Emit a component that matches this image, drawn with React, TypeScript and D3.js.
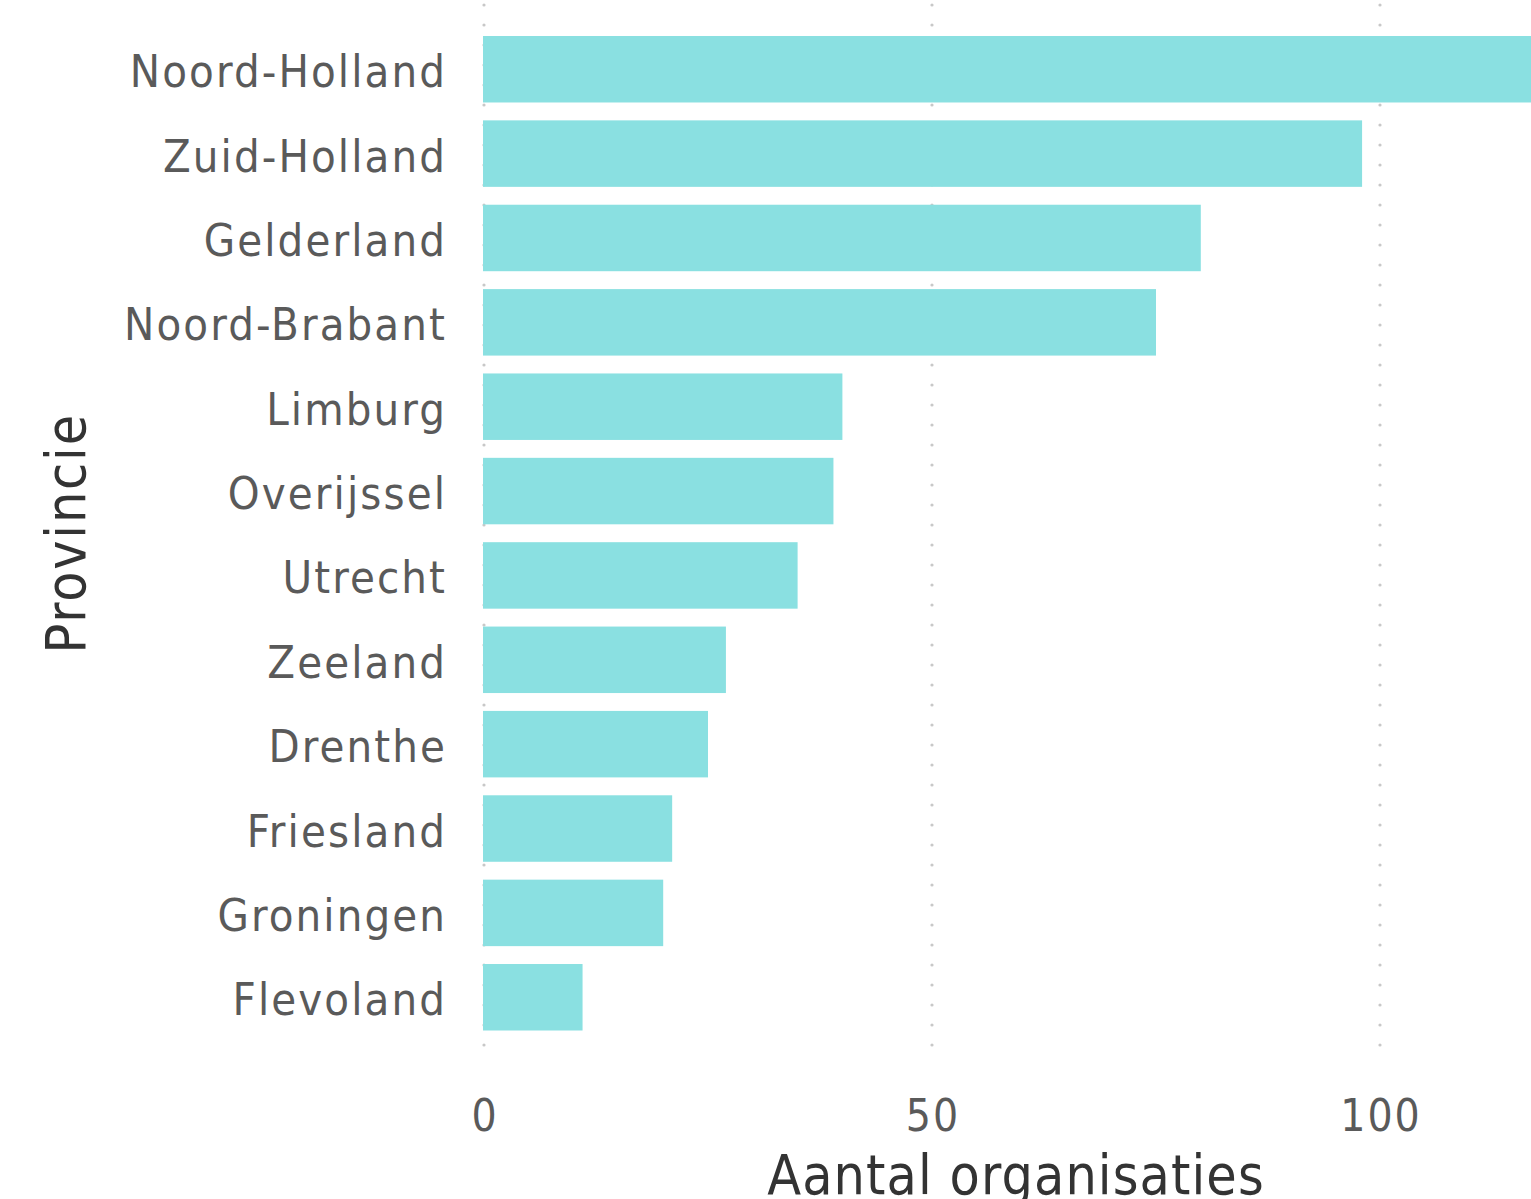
import React from "react";
import * as d3 from "d3";

const provinces = [
  "Noord-Holland",
  "Zuid-Holland",
  "Gelderland",
  "Noord-Brabant",
  "Limburg",
  "Overijssel",
  "Utrecht",
  "Zeeland",
  "Drenthe",
  "Friesland",
  "Groningen",
  "Flevoland",
];
const counts = [120, 98, 80, 75, 40, 39, 35, 27, 25, 21, 20, 11];
const xTicks = [0, 50, 100];
const xTitle = "Aantal organisaties";
const yTitle = "Provincie";

const W = 1531;
const H = 1199;
const FONT = "'DejaVu Sans Condensed', 'DejaVu Sans', sans-serif";

export default function App() {
  const x = d3.scaleLinear().domain([0, 118.75]).range([484, 1548]);
  const y = d3
    .scaleBand<string>()
    .domain(provinces)
    .range([36, 1030.5])
    .paddingInner(0.212)
    .paddingOuter(0);
  const gridTop = 5;
  const gridBottom = 1050;
  const dots = d3.range(gridTop, gridBottom, 20);
  return (
    <svg
      width={W}
      height={H}
      style={{ position: "absolute", left: 0, top: 0, display: "block" }}
      fontFamily={FONT}
    >
      <rect width={W} height={H} fill="#fff" />
      {xTicks.map((t) => (
        <g key={t}>
          {dots.map((d) => (
            <circle key={d} cx={x(t)} cy={d} r={1.6} fill="#c8c8c8" />
          ))}
        </g>
      ))}
      {provinces.map((p, i) => (
        <rect
          key={p}
          x={x(0) - 1}
          y={y(p)}
          width={Math.max(0, x(counts[i]) - x(0) + 1)}
          height={y.bandwidth()}
          fill="#8ae0e1"
        />
      ))}
      {provinces.map((p) => (
        <text
          key={p}
          x={447}
          y={(y(p) ?? 0) + y.bandwidth() / 2}
          dy="0.4em"
          textAnchor="end"
          fontSize={45}
          fill="#5a5a5a"
          letterSpacing={2.1}
        >
          {p}
        </text>
      ))}
      {xTicks.map((t) => (
        <text
          key={t}
          x={x(t) + 1}
          y={1115}
          dy="0.36em"
          textAnchor="middle"
          fontSize={44}
          fill="#5a5a5a"
          letterSpacing={2}
        >
          {t}
        </text>
      ))}
      <text
        x={(x.range()[0] + x.range()[1]) / 2}
        y={1194}
        textAnchor="middle"
        fontSize={55}
        fill="#333333"
        letterSpacing={1.1}
      >
        {xTitle}
      </text>
      <text
        transform={`translate(85, ${(y.range()[0] + y.range()[1]) / 2}) rotate(-90)`}
        textAnchor="middle"
        fontSize={55}
        fill="#333333"
        letterSpacing={1.8}
      >
        {yTitle}
      </text>
    </svg>
  );
}
